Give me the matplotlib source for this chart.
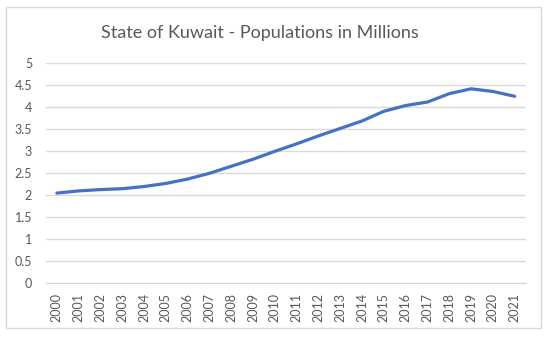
import matplotlib.pyplot as plt
from matplotlib.patches import Rectangle

years = [str(y) for y in range(2000, 2022)]
population = [2.05, 2.10, 2.13, 2.15, 2.20, 2.27, 2.37, 2.50, 2.66, 2.82, 3.00,
              3.17, 3.35, 3.52, 3.69, 3.91, 4.04, 4.12, 4.31, 4.42, 4.36, 4.25]
yticks = [0, 0.5, 1, 1.5, 2, 2.5, 3, 3.5, 4, 4.5, 5]

plt.rcParams['font.family'] = ['Lato', 'DejaVu Sans']
W, H = 550, 338
fig = plt.figure(figsize=(5.5, 3.38), dpi=100)
fig.patch.set_facecolor('white')

# chart border
fig.add_artist(Rectangle((6 / W, 1 - 328 / H), 535 / W, 321 / H, transform=fig.transFigure,
                         fill=False, edgecolor='#D9D9D9', linewidth=1))

ax = fig.add_axes([46 / W, 1 - 283.3 / H, 479.6 / W, 220 / H])
x = list(range(len(years)))
ax.plot(x, population, color='#4472C4', linewidth=2.3, solid_capstyle='round')

ax.set_xlim(-0.5, len(years) - 0.5)
ax.set_ylim(0, 5)
ax.set_yticks(yticks)
ax.set_yticklabels([f'{v:g}' for v in yticks])
ax.set_xticks(x)
ax.set_xticklabels(years, rotation=90)
ax.grid(axis='y', color='#D9D9D9', linewidth=1)
ax.set_axisbelow(True)
for s in ['top', 'right', 'left']:
    ax.spines[s].set_visible(False)
ax.spines['bottom'].set_color('#D9D9D9')
ax.tick_params(length=0, labelsize=9, colors='#595959', pad=7)
ax.tick_params(axis='y', pad=10)

fig.text(260 / W, 1 - 33 / H, 'State of Kuwait - Populations in Millions',
         ha='center', va='center', fontsize=13, color='#595959')

fig.savefig('out.png', dpi=100)
